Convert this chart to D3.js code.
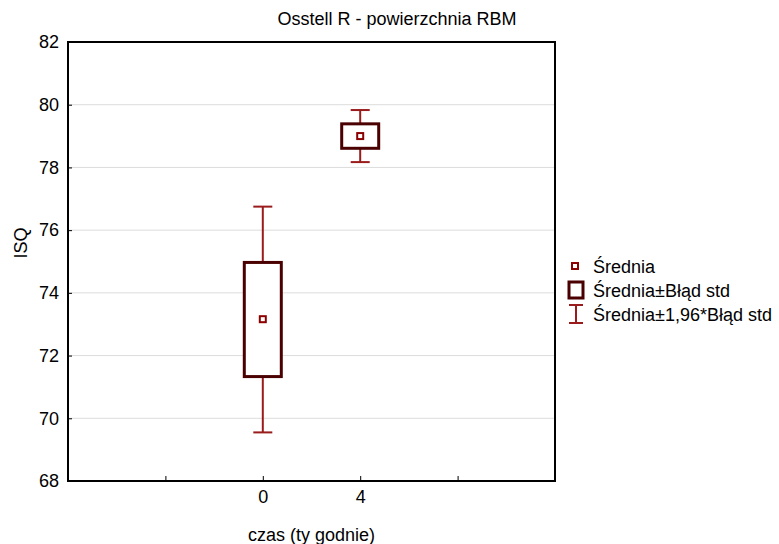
<!DOCTYPE html>
<html><head><meta charset="utf-8">
<script src="https://cdn.jsdelivr.net/npm/d3@7"></script>
<style>body{margin:0;background:#fff;} text{font-family:Arial,"Liberation Sans",sans-serif;fill:#000;}</style>
</head><body>
<svg id="c" width="779" height="544"></svg>
<script>
const categories = ["0", "4"];
const xTickKeys = ["L", "0", "4", "R"];
const xTickLabels = ["", "0", "4", ""];
const means = [73.16, 79.0];
const boxLow = [71.33, 78.61];
const boxHigh = [74.97, 79.39];
const whiskLow = [69.55, 78.17];
const whiskHigh = [76.75, 79.83];
const yTicks = [68, 70, 72, 74, 76, 78, 80, 82];
const legendLabels = ["Średnia", "Średnia±Błąd std", "Średnia±1,96*Błąd std"];

const svg = d3.select("#c");
const L = 68, R = 555, T = 42, B = 481;
const FS = "18px";
const x = d3.scalePoint().domain(xTickKeys).range([L, R]).padding(1);
const y = d3.scaleLinear().domain([68, 82]).range([B, T]);

const boxCol = "#4a0000", whCol = "#9a1b1b", meanCol = "#8b0000";

// gridlines
svg.append("g").selectAll("line").data(yTicks.slice(1, -1)).join("line")
  .attr("x1", L).attr("x2", R).attr("y1", d => y(d)).attr("y2", d => y(d))
  .attr("stroke", "#dcdcdc").attr("stroke-width", 1);

// y axis
const ya = svg.append("g").attr("transform", `translate(${L},0)`)
  .call(d3.axisLeft(y).tickValues(yTicks).tickSize(-4).tickPadding(9).tickFormat(d3.format("d")));
ya.select(".domain").remove();
ya.selectAll("line").attr("stroke", "#000");
ya.selectAll("text").style("font-size", FS);

// x axis
const xa = svg.append("g").attr("transform", `translate(0,${B})`)
  .call(d3.axisBottom(x).tickSize(-5).tickPadding(9).tickFormat((d, i) => xTickLabels[i]));
xa.select(".domain").remove();
xa.selectAll("line").attr("stroke", "#000");
xa.selectAll("text").style("font-size", FS);

// frame
svg.append("rect").attr("x", L).attr("y", T).attr("width", R - L).attr("height", B - T)
  .attr("fill", "none").attr("stroke", "#000").attr("stroke-width", 2);

// boxes & whiskers
const capW = 19, boxW = 37;
categories.forEach((c, i) => {
  const cx = x(c);
  const g = svg.append("g");
  g.append("line").attr("x1", cx).attr("x2", cx).attr("y1", y(whiskHigh[i])).attr("y2", y(boxHigh[i]))
    .attr("stroke", whCol).attr("stroke-width", 2);
  g.append("line").attr("x1", cx).attr("x2", cx).attr("y1", y(boxLow[i])).attr("y2", y(whiskLow[i]))
    .attr("stroke", whCol).attr("stroke-width", 2);
  [whiskHigh[i], whiskLow[i]].forEach(v => g.append("line").attr("x1", cx - capW / 2).attr("x2", cx + capW / 2)
    .attr("y1", y(v)).attr("y2", y(v)).attr("stroke", whCol).attr("stroke-width", 2));
  g.append("rect").attr("x", cx - boxW / 2).attr("y", y(boxHigh[i])).attr("width", boxW)
    .attr("height", y(boxLow[i]) - y(boxHigh[i])).attr("fill", "#fff").attr("stroke", boxCol).attr("stroke-width", 3);
  g.append("rect").attr("x", cx - 3).attr("y", y(means[i]) - 3).attr("width", 6).attr("height", 6)
    .attr("fill", "#fff").attr("stroke", meanCol).attr("stroke-width", 2);
});

// titles
svg.append("text").attr("x", 397).attr("y", 25).attr("text-anchor", "middle").style("font-size", FS)
  .text("Osstell R - powierzchnia RBM");
svg.append("text").attr("x", (L + R) / 2).attr("y", 541).attr("text-anchor", "middle").style("font-size", FS)
  .text("czas (ty godnie)");
svg.append("text").attr("transform", `translate(27,243) rotate(-90)`).attr("text-anchor", "middle")
  .style("font-size", FS).text("ISQ");

// legend
const lg = svg.append("g");
const rows = [266, 290, 314];
lg.append("rect").attr("x", 572).attr("y", rows[0] - 3).attr("width", 6).attr("height", 6)
  .attr("fill", "#fff").attr("stroke", meanCol).attr("stroke-width", 2);
lg.append("rect").attr("x", 569).attr("y", rows[1] - 8).attr("width", 14).attr("height", 16)
  .attr("fill", "#fff").attr("stroke", boxCol).attr("stroke-width", 3);
lg.append("line").attr("x1", 576).attr("x2", 576).attr("y1", rows[2] - 9).attr("y2", rows[2] + 9)
  .attr("stroke", whCol).attr("stroke-width", 2);
[rows[2] - 9, rows[2] + 9].forEach(v => lg.append("line").attr("x1", 569).attr("x2", 583).attr("y1", v).attr("y2", v)
  .attr("stroke", whCol).attr("stroke-width", 2));
lg.selectAll("text.l").data(legendLabels).join("text").attr("class", "l")
  .attr("x", 593).attr("y", (d, i) => rows[i] + 6.5).style("font-size", FS).text(d => d);
</script>
</body></html>
